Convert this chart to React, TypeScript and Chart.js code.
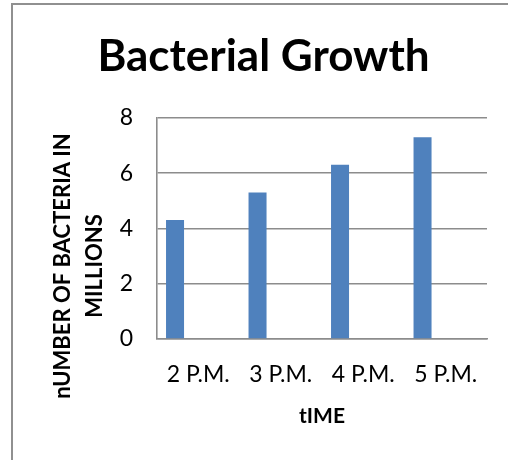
import React, { useEffect, useRef } from "react";
import { Chart, registerables } from "chart.js";

Chart.register(...registerables);

const categories = ["2 P.M.", "3 P.M.", "4 P.M.", "5 P.M."];
const series1 = [4.3, 5.3, 6.3, 7.3];
const series2: (number | null)[] = [null, null, null, null];
const series3: (number | null)[] = [null, null, null, null];
const chartTitle = "Bacterial Growth";
const yTitleLines = ["nUMBER OF BACTERIA IN", "MILLIONS"];
const xTitle = "tIME";

const FONT = "Lato, 'Open Sans', sans-serif";

const yTitlePlugin = {
  id: "yTitlePlugin",
  afterDraw(chart: any) {
    const { ctx, chartArea } = chart;
    ctx.save();
    ctx.font = `bold 22px ${FONT}`;
    ctx.fillStyle = "#000";
    ctx.textAlign = "center";
    ctx.textBaseline = "middle";
    ctx.translate(chartArea.left - 94, chartArea.bottom - 73);
    ctx.rotate(-Math.PI / 2);
    yTitleLines.forEach((line, i) => {
      ctx.fillText(line, 0, i * 32);
    });
    ctx.restore();
  },
};

export default function App() {
  const ref = useRef<HTMLCanvasElement>(null);
  useEffect(() => {
    if (!ref.current) return;
    const chart = new Chart(ref.current, {
      type: "bar",
      data: {
        labels: categories,
        datasets: [
          { label: "Series 1", data: series1, backgroundColor: "#4f81bd", categoryPercentage: 0.844, barPercentage: 0.776 },
          { label: "Series 2", data: series2 as any, backgroundColor: "#c0504d", categoryPercentage: 0.844, barPercentage: 0.776 },
          { label: "Series 3", data: series3 as any, backgroundColor: "#9bbb59", categoryPercentage: 0.844, barPercentage: 0.776 },
        ],
      },
      options: {
        animation: false,
        responsive: false,
        devicePixelRatio: 1,
        layout: { padding: { left: 40, right: 21, top: 0, bottom: 0 } },
        plugins: {
          legend: { display: false },
          tooltip: { enabled: false },
          title: {
            display: true,
            text: chartTitle,
            color: "#000",
            font: { family: FONT, size: 44, weight: "bold" },
            padding: { top: 30, bottom: 35 },
          },
        },
        scales: {
          x: {
            grid: { display: false, drawTicks: false },
            border: { display: true, color: "#8c8c8c", width: 1.6 },
            ticks: { color: "#000", font: { family: FONT, size: 23 }, padding: 22, maxRotation: 0 },
            title: {
              display: true,
              text: xTitle,
              color: "#000",
              font: { family: FONT, size: 21, weight: "bold" },
              padding: { top: 4, bottom: 31 },
            },
            afterFit: (s: any) => { s.height = 121; },
          },
          y: {
            min: 0,
            max: 8,
            ticks: { stepSize: 2, color: "#000", font: { family: FONT, size: 23 }, padding: 24 },
            grid: { color: "#8c8c8c", lineWidth: 1.6, drawTicks: false },
            border: { display: true, color: "#8c8c8c", width: 1.6 },
            afterFit: (s: any) => { s.width = 117; },
          },
        },
      },
      plugins: [yTitlePlugin],
    });
    return () => chart.destroy();
  }, []);
  return (
    <div style={{ position: "absolute", left: 0, top: 0, width: 508, height: 460, background: "#fff", overflow: "hidden" }}>
      <div style={{ position: "absolute", left: 11, top: 3, width: 600, height: 600, borderLeft: "2px solid #909090", borderTop: "2px solid #909090" }} />
      <canvas ref={ref} width={508} height={460} style={{ position: "absolute", left: 0, top: 0 }} />
    </div>
  );
}
